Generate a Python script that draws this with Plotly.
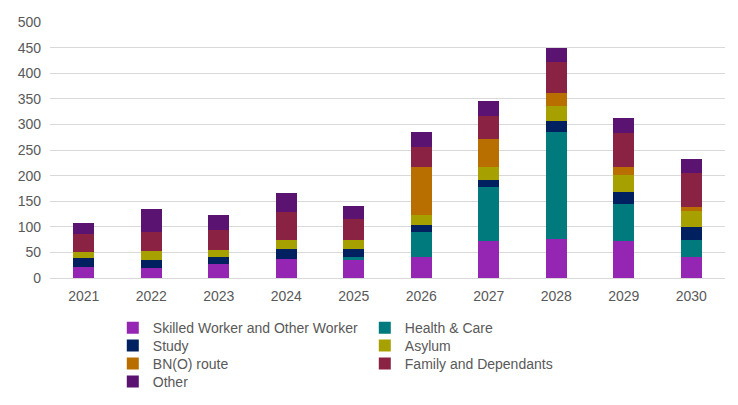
import plotly.graph_objects as go

years = ["2021", "2022", "2023", "2024", "2025", "2026", "2027", "2028", "2029", "2030"]

skilled = [21, 20, 27, 38, 36, 42, 73, 76, 73, 42]
health = [0, 0, 0, 0, 6, 47, 104, 210, 71, 32]
study = [18, 16, 15, 19, 15, 15, 15, 20, 24, 25]
asylum = [11, 17, 13, 18, 18, 20, 25, 29, 33, 32]
bno = [0, 0, 0, 0, 0, 92, 54, 26, 16, 7]
family = [36, 37, 38, 54, 41, 40, 46, 60, 67, 67]
other = [21, 44, 31, 37, 24, 30, 29, 28, 28, 27]

series = [
    ("Skilled Worker and Other Worker", skilled, "#9525B3", "legend"),
    ("Health & Care", health, "#007A7C", "legend"),
    ("Study", study, "#00205F", "legend2"),
    ("Asylum", asylum, "#A7A100", "legend2"),
    ("BN(O) route", bno, "#B86F00", "legend3"),
    ("Family and Dependants", family, "#8A2343", "legend3"),
    ("Other", other, "#5A1370", "legend4"),
]

fig = go.Figure()
for name, vals, col, lg in series:
    fig.add_trace(go.Bar(x=years, y=vals, name=name, legend=lg,
                         marker=dict(color=col, line=dict(width=0))))

row_y = [0.2098, 0.1654, 0.1210, 0.0765]
legend_common = dict(orientation="h", xref="container", yref="container",
                     x=0.142, xanchor="left", yanchor="middle",
                     entrywidth=207, entrywidthmode="pixels", traceorder="normal",
                     font=dict(size=14, color="#595959"), itemsizing="constant",
                     bgcolor="rgba(0,0,0,0)")

fig.update_layout(
    barmode="stack",
    bargap=0.69,
    width=738, height=405,
    margin=dict(l=42, r=21, t=14, b=135, autoexpand=False),
    paper_bgcolor="white", plot_bgcolor="white",
    font=dict(family="Liberation Sans, Arial, sans-serif", size=14, color="#595959"),
    xaxis=dict(type="category", showgrid=False, showline=False, ticks="",
               tickfont=dict(size=14, color="#595959"), ticklabelstandoff=8),
    yaxis=dict(range=[0, 500], dtick=50, showgrid=True, gridcolor="#D9D9D9", gridwidth=1,
               zeroline=True, zerolinecolor="#D9D9D9", zerolinewidth=1,
               tickfont=dict(size=14, color="#595959"), ticks="", ticklabelstandoff=8),
    legend=dict(legend_common, y=row_y[0]),
    legend2=dict(legend_common, y=row_y[1]),
    legend3=dict(legend_common, y=row_y[2]),
    legend4=dict(legend_common, y=row_y[3]),
    showlegend=True,
)

fig.write_html("out.html")
